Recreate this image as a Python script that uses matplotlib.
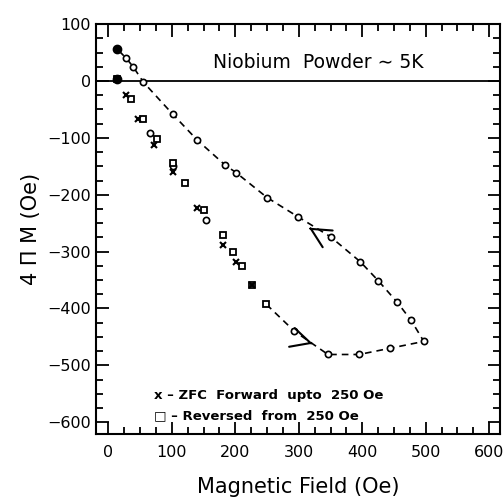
import matplotlib.pyplot as plt
from matplotlib.ticker import MultipleLocator

# ZFC forward (x markers)
zfc_h = [14, 27, 46, 72, 102, 140, 181, 201, 227]
zfc_m = [4, -25, -67, -112, -160, -224, -288, -318, -358]

# reversed from 250 Oe (squares)
rev_h = [14, 35, 55, 77, 101, 121, 151, 180, 197, 211, 227, 249]
rev_m = [4, -31, -67, -102, -144, -179, -226, -270, -300, -325, -358, -393]

# extra circles on the lower branch
low_h = [65, 101, 154]
low_m = [-91, -150, -244]

# loop circles, in the order the dashed line runs
loop_h = [249, 293, 346, 395, 444, 497, 477, 455, 425, 397, 350, 299, 250,
          201, 184, 140, 101, 55, 39, 28, 14]
loop_m = [-393, -440, -481, -481, -470, -458, -421, -389, -351, -318, -274,
          -239, -205, -161, -148, -104, -58, -2, 25, 40, 56]

fig = plt.figure(figsize=(5.04, 5.03), dpi=100)
ax = fig.add_axes([0.19, 0.137, 0.802, 0.815])

ax.axhline(0, color='k', lw=1.3)
ax.plot(loop_h, loop_m, color='k', ls=(0, (4, 3)), lw=1.2)
ax.plot(loop_h[1:], loop_m[1:], 'o', mfc='white', mec='k', ms=4.5, mew=1.2)
ax.plot(low_h, low_m, 'o', mfc='white', mec='k', ms=4.5, mew=1.2)
ax.plot(rev_h, rev_m, 's', mfc='white', mec='k', ms=5, mew=1.3)
ax.plot(zfc_h, zfc_m, 'x', color='k', ms=5, mew=1.5)
ax.plot([14, 14], [56, 4], 'o', color='k', ms=6)

# direction arrows (chevrons only)
arrow = dict(arrowstyle='->,head_length=0.7,head_width=0.35', color='k',
             lw=1.5, mutation_scale=20, shrinkA=0, shrinkB=0)
ax.annotate('', xy=(316, -258), xytext=(319, -260), arrowprops=arrow)
ax.annotate('', xy=(322, -462), xytext=(319, -461), arrowprops=arrow)

ax.text(330, 33, 'Niobium  Powder ∼ 5K', fontsize=13.5, ha='center', va='center')
ax.text(72, -553, 'x – ZFC  Forward  upto  250 Oe', fontsize=9.5,
        fontweight='bold', va='center')
ax.text(72, -588, '□ – Reversed  from  250 Oe', fontsize=9.5,
        fontweight='bold', va='center')

ax.set_xlim(-20, 617)
ax.set_ylim(-621, 100)
ax.xaxis.set_major_locator(MultipleLocator(100))
ax.xaxis.set_minor_locator(MultipleLocator(25))
ax.yaxis.set_major_locator(MultipleLocator(100))
ax.yaxis.set_minor_locator(MultipleLocator(25))
ax.tick_params(which='both', direction='in', top=True, right=True, width=1.3,
               labelsize=11.5)
ax.tick_params(which='major', length=9)
ax.tick_params(which='minor', length=5)
ax.tick_params(axis='x', pad=8)
for s in ax.spines.values():
    s.set_linewidth(1.5)

ax.set_xlabel('Magnetic Field (Oe)', fontsize=15, labelpad=12)
ax.set_ylabel('4 Π M (Oe)', fontsize=15, labelpad=4)

fig.savefig('out.png', dpi=100)
